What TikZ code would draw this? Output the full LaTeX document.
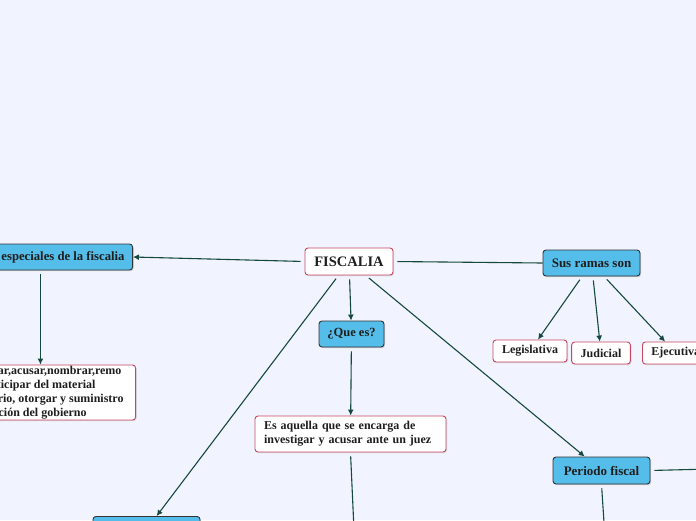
\documentclass[tikz,border=0pt]{standalone}
\usepackage{fontspec}
\setmainfont{Liberation Serif}
\usetikzlibrary{arrows.meta,positioning,shadows}
\definecolor{bgpage}{HTML}{F1F4FE}
\definecolor{blue1}{HTML}{55BDEA}
\definecolor{link1}{HTML}{16493E}
\definecolor{red1}{HTML}{C8455E}
\definecolor{ink}{HTML}{1E1E1E}

\begin{document}
\begin{tikzpicture}
[x=1pt,y=-1pt,
topic/.style={draw=red1, fill=white, rounded corners=3pt, line width=0.9pt,
text=ink, font=\bfseries\fontsize{14.5}{16}\selectfont,
minimum width=88pt, minimum height=27pt, inner sep=0pt,
drop shadow={shadow xshift=1pt,shadow yshift=-1.2pt,opacity=0.25}},
main/.style={draw=black!80, fill=blue1, rounded corners=3pt, line width=0.9pt,
text=ink, font=\bfseries\fontsize{12.5}{14}\selectfont,
minimum height=26pt, inner sep=0pt, inner xsep=8pt,
drop shadow={shadow xshift=1pt,shadow yshift=-1.2pt,opacity=0.35}},
leaf/.style={draw=red1, fill=white, rounded corners=3pt, line width=0.9pt,
text=ink, font=\bfseries\fontsize{12}{14}\selectfont, align=left,
minimum height=22pt, inner sep=0pt, inner xsep=9pt,
drop shadow={shadow xshift=1pt,shadow yshift=-1.2pt,opacity=0.25}},
line/.style={draw=link1, line width=1.1pt, shorten <=4pt},
arr/.style={line, -{Latex[length=6pt,width=6pt]}}]

\useasboundingbox (0,0) rectangle (696,520);
\fill[bgpage] (0,0) rectangle (696,520);

\node [topic]                 (fis)   at (349, 261.5)   {FISCALIA};
\node [main, anchor=east, font=\bfseries\fontsize{12.7}{14}\selectfont]
                              (esp)   at (133, 257)     {Funciones especiales de la fiscalia};
\node [leaf, anchor=east, minimum height=55pt, inner xsep=12pt]
                              (fun)   at (136, 392.5)   {Investigar,acusar,nombrar,remo\\ver, participar del material\\probatorio, otorgar y suministro\\información del gobierno};
\node [main, minimum width=65pt]  (que)   at (351.5, 334)  {¿Que es?};
\node [leaf, text width=173pt, minimum height=36pt]
                              (aq)    at (350.5, 434)   {Es aquella que se encarga de\\investigar y acusar ante un juez};
\node [main, minimum width=97pt, font=\bfseries\fontsize{13}{14}\selectfont]
                              (ram)   at (591.5, 263)  {Sus ramas son};
\node [leaf, minimum width=72pt]  (leg)   at (530, 351)    {Legislativa};
\node [leaf, minimum width=58pt]  (jud)   at (601, 353)    {Judicial};
\node [leaf, anchor=west]     (eje)   at (642, 353)     {Ejecutiva};
\node [main, minimum width=97pt, minimum height=27pt, font=\bfseries\fontsize{13}{14}\selectfont]
                              (per)   at (601.5, 470.5) {Periodo fiscal};
\node [main, anchor=north, minimum width=107pt]
                              (otro)  at (146.5, 516)   {};

\coordinate (aqend)  at (354, 530);
\coordinate (perend) at (604.5, 530);
\coordinate (perout) at (710, 469);

\draw [arr] (fis.west) to (esp.east);
\draw [line] (fis.east) to (ram.west);
\draw [arr] (fis) to (que);
\draw [arr] (fis) to (otro);
\draw [arr] (fis) to (per);

\draw [arr] (esp.south -| fun) to (fun);
\draw [arr] (que) to (aq);
\draw [line] (aq.south) to (aqend);

\draw [arr] (ram) to (leg);
\draw [arr] (ram) to (jud);
\draw [arr] (ram) to (eje);

\draw [line] (per.east) to (perout);
\draw [line] (per.south) to (perend);

\end{tikzpicture}
\end{document}
